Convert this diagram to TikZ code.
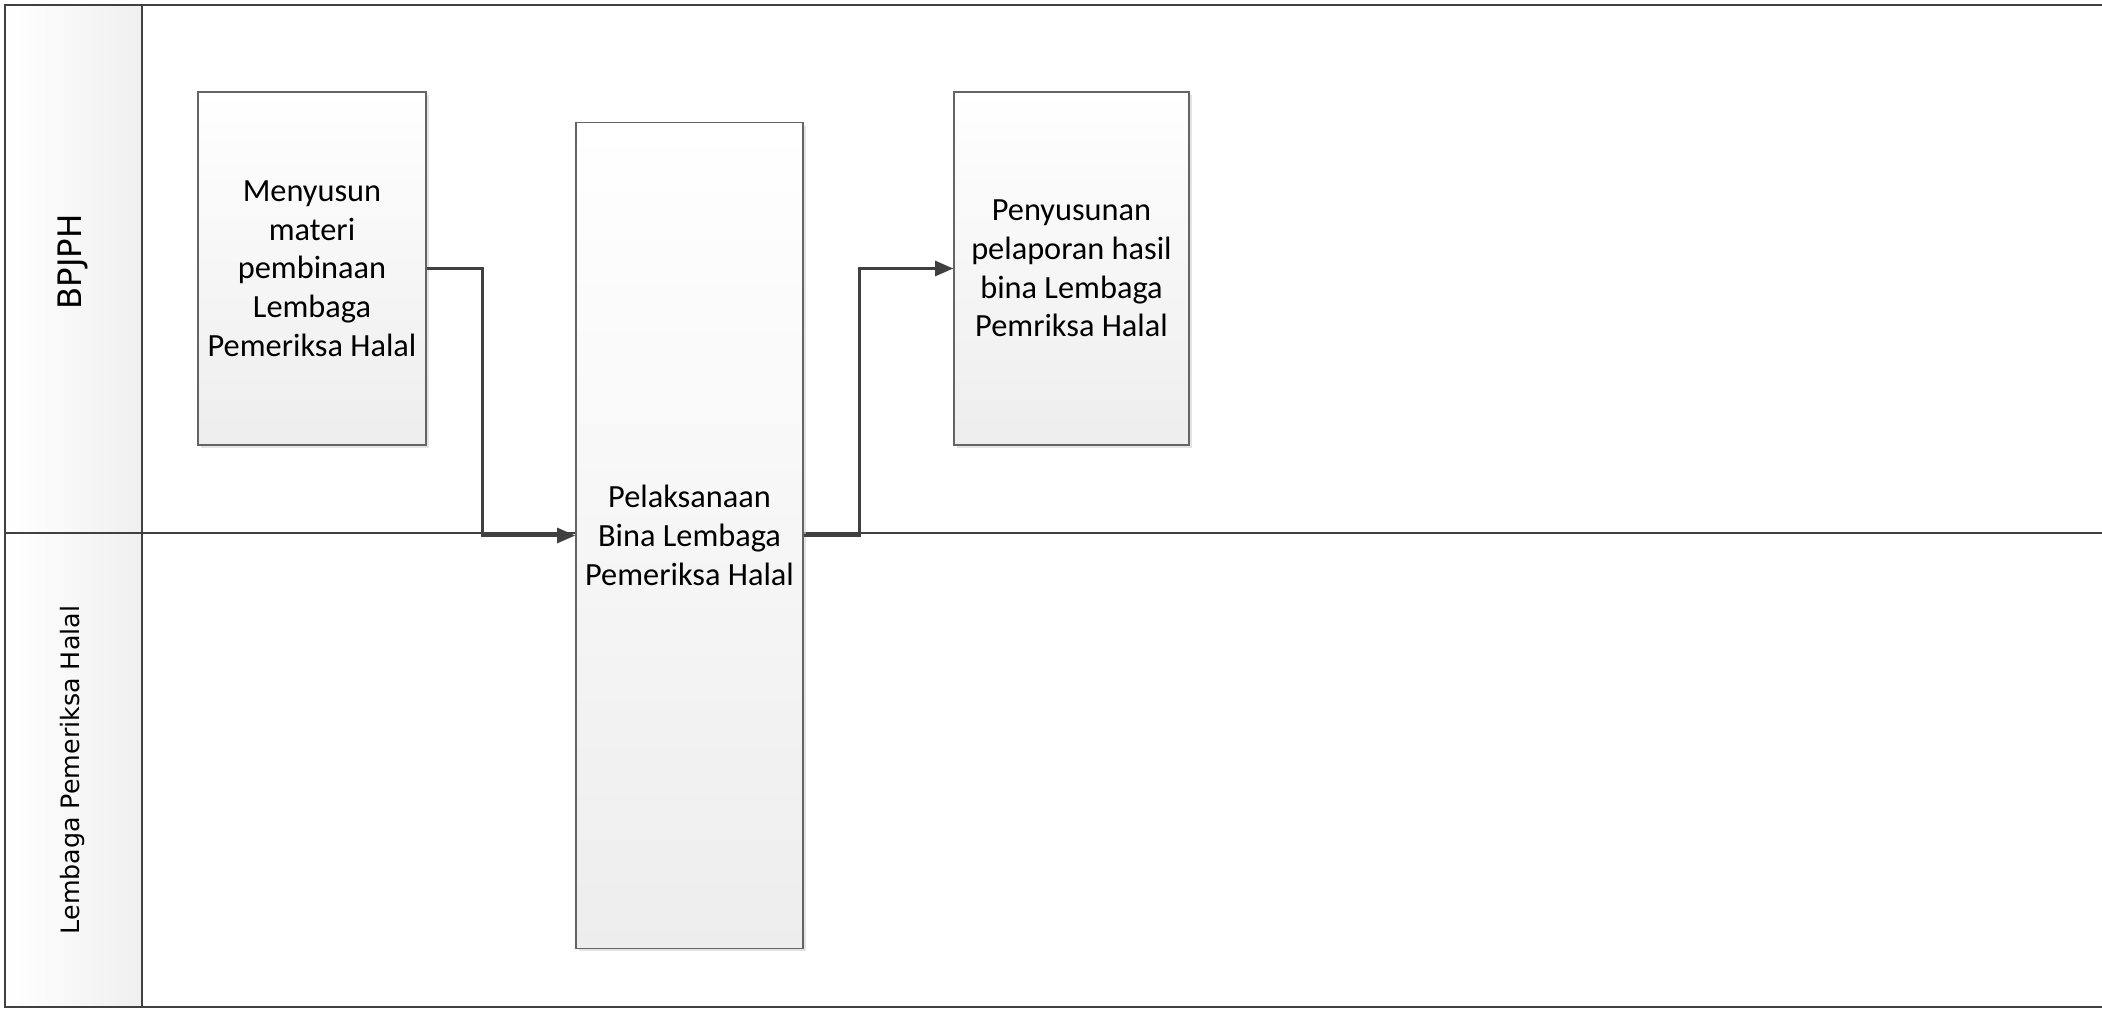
\documentclass[tikz,border=0pt]{standalone}
\usepackage{fontspec}
\setmainfont{Carlito}
\newfontfamily\lanefont{DejaVu Sans}
\usepackage{xcolor}
\usepackage{tikz}
\usetikzlibrary{positioning,calc,arrows.meta,shadows}

\definecolor{lineDark}{RGB}{64,64,64}
\definecolor{boxEdge}{RGB}{100,100,100}

\begin{document}
\begin{tikzpicture}[
    x=0.01cm, y=-0.01cm,
    every node/.style={font=\fontsize{9.2}{11}\selectfont},
    lane/.style={lineDark, line width=0.75pt},
    act/.style={draw=boxEdge, line width=0.4pt, rectangle, align=center,
                top color=white, bottom color=gray!14, inner sep=2pt,
                drop shadow={shadow xshift=0.9pt, shadow yshift=-0.9pt, fill=gray!35, opacity=0.6}},
    lanelabel/.style={rotate=90, font=\lanefont\fontsize{7.2}{9}\selectfont, text=black},
    flow/.style={-{Triangle[length=0.18cm, width=0.15cm]}, lineDark, line width=0.75pt},
]
\useasboundingbox (0,0) rectangle (2102,1009);

% =====================================================================
% Swimlane frame
% =====================================================================
\shade[left color=white, right color=gray!12] (5,5) rectangle (142,1007);
\draw[lane] (2102,5) -- (5,5) -- (5,1007) -- (2102,1007);
\draw[lane] (142,5) -- (142,1007);
\draw[lane] (5,533) -- (2102,533);

% Lane titles
\node[lanelabel, font=\lanefont\fontsize{9.2}{11}\selectfont] (bpjph) at (73,262) {BPJPH};
\node[lanelabel] (lph) at (73,770) {Lembaga Pemeriksa Halal};

% =====================================================================
% Activities
% =====================================================================
\node[act, minimum width=2.28cm, minimum height=3.53cm] (materi) at (312,268.5)
    {Menyusun\\materi\\pembinaan\\Lembaga\\Pemeriksa Halal};
\node[act, minimum width=2.27cm, minimum height=8.25cm] (bina) at (689.5,535.5)
    {Pelaksanaan\\Bina Lembaga\\Pemeriksa Halal};
\node[act, minimum width=2.35cm, minimum height=3.53cm] (lapor) at (1071.5,268.5)
    {Penyusunan\\pelaporan hasil\\bina Lembaga\\Pemriksa Halal};

% Connectors
\draw[flow] (materi.east) -- ++(56,0) |- (bina.west);
\draw[flow] (bina.east) -- ++(56,0) |- (lapor.west);

\end{tikzpicture}
\end{document}
